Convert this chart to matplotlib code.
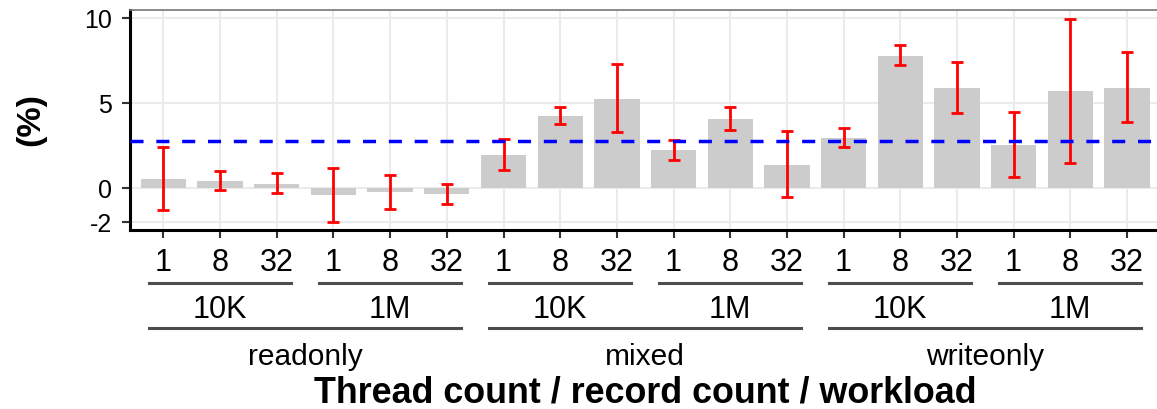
import numpy as np
import matplotlib.pyplot as plt
from matplotlib.transforms import blended_transform_factory

plt.rcParams['font.family'] = ['Liberation Sans', 'DejaVu Sans']
plt.rcParams['axes.unicode_minus'] = False
plt.rcParams['lines.scale_dashes'] = False

# Data: thread count / record count / workload
workloads = ['readonly', 'mixed', 'writeonly']
records = ['10K', '1M']
threads = ['1', '8', '32']

values = [0.55, 0.45, 0.27, -0.39, -0.20, -0.33,
          1.94, 4.25, 5.27, 2.24, 4.10, 1.39,
          2.96, 7.80, 5.88, 2.53, 5.72, 5.92]
err_low = [-1.28, -0.10, -0.30, -2.00, -1.22, -0.94,
           1.06, 3.78, 3.31, 1.65, 3.43, -0.49,
           2.45, 7.25, 4.41, 0.65, 1.51, 3.92]
err_high = [2.41, 1.04, 0.88, 1.21, 0.80, 0.24,
            2.90, 4.76, 7.31, 2.86, 4.78, 3.35,
            3.53, 8.43, 7.43, 4.47, 9.98, 8.00]
baseline = 2.8

W, H = 1157, 409
fig = plt.figure(figsize=(W / 100, H / 100), dpi=100)
ax = fig.add_axes([130 / W, 1 - 230 / H, 1 - 130 / W, (230 - 9.5) / H])


def fy(py):
    """Figure fraction from a pixel row counted from the top."""
    return 1 - py / H


x = np.arange(len(values))
vals = np.array(values)
yerr = [vals - np.array(err_low), np.array(err_high) - vals]

ax.bar(x, vals, width=0.8, color='#cccccc', zorder=2)
ax.errorbar(x, vals, yerr=yerr, fmt='none', ecolor='red', elinewidth=2.0,
            capsize=4, capthick=2.0, zorder=3)
ax.axhline(baseline, color='blue', lw=2.5, dashes=(9.4, 9.2), zorder=4)

ax.set_xlim(-0.59, 17.53)
ax.set_ylim(-2.45, 10.52)
ax.set_yticks([-2, 0, 5, 10])
ax.set_yticklabels(['-2', '0', '5', '10'], fontsize=18)
ax.set_xticks(x)
ax.set_xticklabels(threads * (len(workloads) * len(records)), fontsize=22)
ax.tick_params(axis='both', length=6, width=1.5, color='#333333')
ax.tick_params(axis='x', pad=7)
ax.tick_params(axis='y', pad=7)

ax.grid(color='#ebebeb', lw=1.5)
ax.set_axisbelow(True)
for side in ['left', 'bottom']:
    ax.spines[side].set_linewidth(2.2)
    ax.spines[side].set_color('black')
ax.spines['top'].set_color('#777777')
ax.spines['top'].set_linewidth(1.2)
ax.spines['right'].set_visible(False)

# Nested group labels under the axis
trans = blended_transform_factory(ax.transData, fig.transFigure)
for i in range(len(workloads) * len(records)):
    c = 3 * i
    ax.plot([c - 0.25, c + 2.25], [fy(282.7)] * 2, color='#4d4d4d', lw=2.2,
            transform=trans, clip_on=False)
    ax.text(c + 1, fy(310), records[i % 2], transform=trans, ha='center',
            va='center', fontsize=22)
for i, wl in enumerate(workloads):
    c = 6 * i
    ax.plot([c - 0.25, c + 5.25], [fy(327.7)] * 2, color='#4d4d4d', lw=2.2,
            transform=trans, clip_on=False)
    ax.text(c + 2.5, fy(365), wl, transform=trans, ha='center',
            va='baseline', fontsize=21.5)

ax.text(8.5, fy(402.5), 'Thread count / record count / workload', transform=trans,
        ha='center', va='baseline', fontsize=25.8, fontweight='bold')
fig.text(31 / W, fy(120), '(%)', rotation=90, ha='center', va='center',
         fontsize=24.5, fontweight='bold')

fig.savefig('out.png', dpi=100)
